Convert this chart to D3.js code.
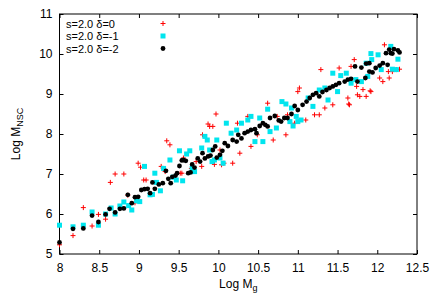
<!DOCTYPE html>
<html>
<head>
<meta charset="utf-8">
<script src="https://cdn.jsdelivr.net/npm/d3@7"></script>
<style>
  body { margin: 0; background: #fff; }
  text { font-family: "Liberation Sans", Arial, sans-serif; font-size: 12px; }
</style>
</head>
<body>
<div id="chart"></div>
<script>
// series: s=2.0 delta=0 (red plus)
const seriesD0 = [
  [8.00,5.23],[8.17,5.46],[8.30,6.16],[8.41,5.70],[8.49,5.99],[8.58,5.87],[8.64,6.79],[8.70,7.00],
  [8.81,7.00],[8.86,6.47],[8.95,6.28],[8.99,7.27],[9.02,7.17],[9.06,6.85],[9.09,6.85],[9.28,7.19],
  [9.33,7.06],[9.35,7.83],[9.39,7.73],[9.52,7.02],[9.54,7.02],[9.56,7.40],[9.66,7.14],[9.72,7.31],
  [9.79,7.19],[9.80,7.98],[9.87,8.25],[9.89,8.19],[9.93,8.19],[9.95,7.24],[9.97,8.50],[10.02,7.60],
  [10.04,7.23],[10.07,7.27],[10.18,7.27],[10.24,8.27],[10.27,7.52],[10.37,8.44],[10.41,7.69],[10.49,7.98],
  [10.62,8.77],[10.69,7.85],[10.74,8.44],[10.85,7.98],[10.87,8.48],[10.96,8.27],[11.00,9.06],[11.02,9.15],
  [11.10,8.35],[11.21,8.48],[11.27,8.48],[11.29,9.61],[11.34,8.65],[11.44,8.73],[11.52,9.65],[11.63,8.90],
  [11.64,8.75],[11.65,8.73],[11.67,9.69],[11.71,9.86],[11.74,9.19],[11.75,8.98],[11.78,8.94],[11.82,9.11],
  [11.86,8.94],[11.91,9.08],[11.92,9.06],[12.03,9.40],[12.07,9.31],[12.09,10.23],[12.14,9.56],[12.15,9.40],
  [12.19,9.56],[12.24,9.61],[12.28,9.62]
];

// series: s=2.0 delta=-1 (cyan squares)
const seriesD1 = [
  [8.00,5.72],[8.17,5.68],[8.30,5.72],[8.41,6.05],[8.49,5.72],[8.58,6.00],[8.65,6.15],[8.70,6.00],
  [8.76,6.20],[8.81,6.30],[8.87,6.21],[8.91,6.10],[8.97,6.33],[9.01,6.31],[9.07,7.19],[9.14,6.48],
  [9.17,6.49],[9.20,7.02],[9.22,6.79],[9.27,6.58],[9.31,7.14],[9.39,7.35],[9.43,6.92],[9.47,6.85],
  [9.51,7.58],[9.55,6.83],[9.60,7.50],[9.64,7.58],[9.67,7.14],[9.70,7.06],[9.79,7.65],[9.83,7.94],
  [9.86,7.85],[9.89,7.60],[9.92,7.31],[9.95,7.35],[9.98,7.85],[10.02,7.40],[10.06,7.27],[10.10,8.27],
  [10.16,8.02],[10.23,8.10],[10.29,8.27],[10.37,8.35],[10.41,8.44],[10.46,7.81],[10.52,8.40],[10.56,7.81],
  [10.62,8.62],[10.65,8.06],[10.73,8.15],[10.80,8.81],[10.85,8.75],[10.90,8.31],[10.94,8.20],[11.00,8.31],
  [10.92,8.65],[10.98,8.44],[11.04,8.35],[11.13,8.90],[11.19,8.69],[11.27,9.10],[11.34,9.15],[11.38,8.85],
  [11.44,9.52],[11.50,9.06],[11.54,9.46],[11.61,9.52],[11.67,9.27],[11.73,9.36],[11.80,9.31],[11.86,9.77],
  [11.88,9.44],[11.92,10.01],[11.93,9.86],[12.01,9.98],[12.05,9.61],[12.17,10.19],[12.19,9.62],[12.24,9.61],
  [12.26,9.87]
];

// series: s=2.0 delta=-2 (black dots)
const seriesD2 = [
  [8.00,5.29],[8.17,5.63],[8.30,5.64],[8.41,5.96],[8.49,5.80],[8.58,5.99],[8.63,6.13],[8.70,6.04],
  [8.76,6.13],[8.81,6.14],[8.86,6.48],[8.91,6.27],[8.95,6.42],[8.99,6.43],[9.03,6.60],[9.07,6.62],
  [9.11,6.63],[9.14,6.52],[9.17,6.79],[9.20,6.63],[9.25,6.74],[9.30,6.77],[9.34,7.08],[9.37,6.88],
  [9.40,6.77],[9.42,6.93],[9.46,6.96],[9.48,7.02],[9.51,7.20],[9.54,7.34],[9.56,7.35],[9.59,7.33],
  [9.62,7.02],[9.65,7.04],[9.67,7.24],[9.70,7.16],[9.74,7.39],[9.77,7.31],[9.80,7.52],[9.83,7.39],
  [9.87,7.44],[9.90,7.46],[9.93,7.60],[9.96,7.69],[9.98,7.41],[10.02,7.48],[10.05,7.58],[10.08,7.77],
  [10.12,7.70],[10.18,7.85],[10.23,7.81],[10.25,7.98],[10.29,7.89],[10.33,8.02],[10.37,8.06],[10.41,8.10],
  [10.46,8.12],[10.48,8.02],[10.52,8.20],[10.56,8.27],[10.59,8.23],[10.62,8.19],[10.65,8.40],[10.71,8.45],
  [10.76,8.34],[10.79,8.31],[10.83,8.40],[10.87,8.40],[10.92,8.50],[10.96,8.70],[11.00,8.60],[11.06,8.73],
  [11.11,8.81],[11.15,8.90],[11.19,8.98],[11.23,9.02],[11.27,8.94],[11.31,9.05],[11.36,9.10],[11.40,9.15],
  [11.44,9.19],[11.48,9.23],[11.52,9.27],[11.59,9.31],[11.63,9.36],[11.67,9.38],[11.72,9.69],[11.75,9.31],
  [11.80,9.66],[11.85,9.40],[11.86,9.76],[11.90,9.56],[11.90,9.77],[11.94,9.54],[11.98,9.65],[12.03,9.71],
  [12.07,9.77],[12.11,10.02],[12.13,9.73],[12.15,10.11],[12.17,10.02],[12.19,10.01],[12.21,10.12],[12.26,10.09],
  [12.28,10.04]
];

const xTicks = [8, 8.5, 9, 9.5, 10, 10.5, 11, 11.5, 12, 12.5];
const yTicks = [5, 6, 7, 8, 9, 10, 11];
const legendLabels = ["s=2.0 \u03b4=0", "s=2.0 \u03b4=-1", "s=2.0 \u03b4=-2"];

const W = 436, H = 305;
const margin = { top: 14, right: 19, bottom: 51, left: 59.5 };
const width = W - margin.left - margin.right;
const height = H - margin.top - margin.bottom;

const svg = d3.select("#chart").append("svg")
  .attr("width", W)
  .attr("height", H);

const g = svg.append("g")
  .attr("transform", `translate(${margin.left},${margin.top})`);

const x = d3.scaleLinear().domain([8, 12.5]).range([0, width]);
const y = d3.scaleLinear().domain([5, 11]).range([height, 0]);

// axes with inward ticks on all four sides
const fmt = d => d3.format("~g")(d);
g.append("g")
  .attr("transform", `translate(0,${height})`)
  .call(d3.axisBottom(x).tickValues(xTicks).tickFormat(fmt).tickSizeInner(-4).tickSizeOuter(0).tickPadding(9));
g.append("g")
  .call(d3.axisLeft(y).tickValues(yTicks).tickFormat(fmt).tickSizeInner(-4).tickSizeOuter(0).tickPadding(7));
g.append("g")
  .call(d3.axisTop(x).tickValues(xTicks).tickFormat("").tickSizeInner(-4).tickSizeOuter(0));
g.append("g")
  .attr("transform", `translate(${width},0)`)
  .call(d3.axisRight(y).tickValues(yTicks).tickFormat("").tickSizeInner(-4).tickSizeOuter(0));

g.selectAll(".domain").remove();
g.selectAll(".tick line").attr("stroke", "#000");
g.selectAll(".tick text").attr("fill", "#000").style("font-size", "12px");

// frame
g.append("rect")
  .attr("width", width)
  .attr("height", height)
  .attr("fill", "none")
  .attr("stroke", "#000")
  .attr("stroke-width", 1);

// axis labels
svg.append("text")
  .attr("x", margin.left + width / 2)
  .attr("y", 288)
  .attr("text-anchor", "middle")
  .html('Log M<tspan dy="3" font-size="9">g</tspan>');

svg.append("text")
  .attr("transform", `translate(20,${margin.top + height / 2}) rotate(-90)`)
  .attr("text-anchor", "middle")
  .html('Log M<tspan dy="3" font-size="9">NSC</tspan>');

// markers
const plus = (sel, px, py, color) => {
  sel.append("path")
    .attr("d", `M${px - 2.5},${py}H${px + 2.5}M${px},${py - 2.5}V${py + 2.5}`)
    .attr("stroke", color)
    .attr("stroke-width", 1)
    .attr("fill", "none");
};

const pts = g.append("g");

seriesD0.forEach(d => plus(pts, x(d[0]), y(d[1]), "#ff0000"));

pts.selectAll(".sq")
  .data(seriesD1)
  .enter()
  .append("rect")
  .attr("x", d => x(d[0]) - 2.5)
  .attr("y", d => y(d[1]) - 2.5)
  .attr("width", 5)
  .attr("height", 5)
  .attr("fill", "#00e5ee");

pts.selectAll(".dot")
  .data(seriesD2)
  .enter()
  .append("circle")
  .attr("cx", d => x(d[0]))
  .attr("cy", d => y(d[1]))
  .attr("r", 2.4)
  .attr("fill", "#000");

// legend
const legend = svg.append("g");
legendLabels.forEach((label, i) => {
  const ly = 23.5 + i * 12.5;
  legend.append("text")
    .attr("x", 66)
    .attr("y", ly + 4)
    .style("font-size", "11px")
    .text(label);
  const mx = 163;
  if (i === 0) plus(legend, mx, ly, "#ff0000");
  if (i === 1) legend.append("rect").attr("x", mx - 2.5).attr("y", ly - 2.5).attr("width", 5).attr("height", 5).attr("fill", "#00e5ee");
  if (i === 2) legend.append("circle").attr("cx", mx).attr("cy", ly).attr("r", 2.4).attr("fill", "#000");
});
</script>
</body>
</html>
